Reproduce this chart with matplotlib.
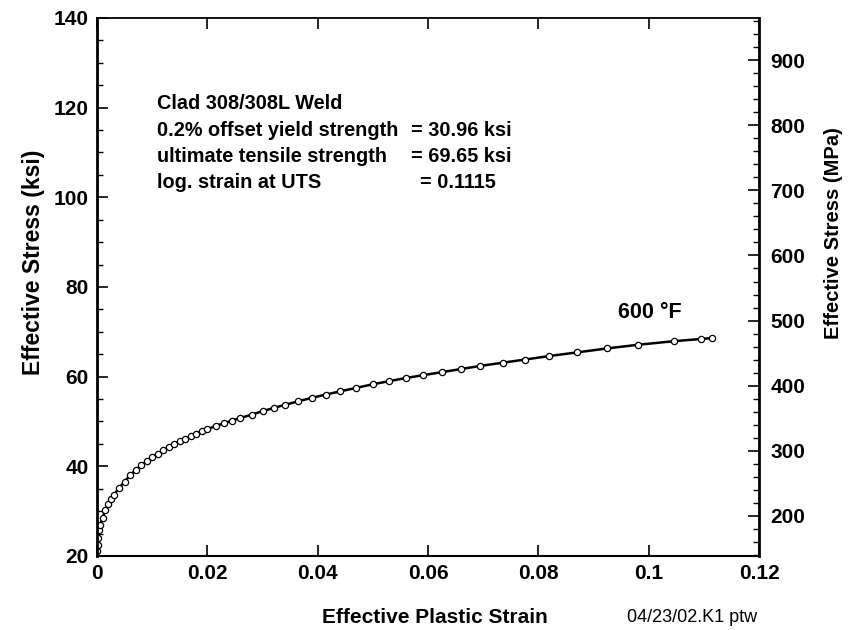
import numpy as np
import matplotlib.pyplot as plt
from matplotlib.ticker import MultipleLocator

plt.rcParams['font.family'] = ['Liberation Sans', 'DejaVu Sans']

# strain / stress
strain = [0, 0.0001, 0.0002, 0.0004, 0.0006, 0.001, 0.0015, 0.002, 0.0025, 0.003,
          0.004, 0.005, 0.006, 0.007, 0.008, 0.009, 0.010, 0.011, 0.012, 0.013,
          0.014, 0.015, 0.016, 0.017, 0.018, 0.019, 0.020, 0.0215, 0.023, 0.0245,
          0.026, 0.028, 0.030, 0.032, 0.034, 0.0365, 0.039, 0.0415, 0.044, 0.047,
          0.050, 0.053, 0.056, 0.059, 0.0625, 0.066, 0.0695, 0.0735, 0.0775,
          0.082, 0.087, 0.0925, 0.098, 0.1045, 0.1095, 0.1115]
stress = [21.0, 22.5, 24.0, 25.7, 27.0, 28.5, 30.3, 31.5, 32.6, 33.5,
          35.2, 36.6, 38.0, 39.2, 40.2, 41.1, 42.0, 42.8, 43.6, 44.3,
          45.0, 45.6, 46.2, 46.8, 47.3, 47.8, 48.3, 49.0, 49.6, 50.2,
          50.8, 51.5, 52.3, 53.0, 53.7, 54.5, 55.3, 56.0, 56.7, 57.5,
          58.3, 59.0, 59.7, 60.3, 61.0, 61.7, 62.4, 63.1, 63.8,
          64.6, 65.4, 66.3, 67.1, 67.9, 68.4, 68.6]

x_ticks = [0, 0.02, 0.04, 0.06, 0.08, 0.1, 0.12]
x_labels = ['0', '0.02', '0.04', '0.06', '0.08', '0.1', '0.12']
info_labels = ['Clad 308/308L Weld', '0.2% offset yield strength',
               'ultimate tensile strength', 'log. strain at UTS']
info_values = ['', '= 30.96 ksi', '= 69.65 ksi', '= 0.1115']
ksi_to_mpa = 6.895

fig = plt.figure(figsize=(8.61, 6.30), dpi=100)
ax = fig.add_axes([0.1127, 0.1175, 0.7689, 0.854])

ax.plot(strain, stress, color='black', lw=1.8, marker='o', ms=4.5,
        mfc='white', mec='black', mew=0.9)

ax.set_xlim(0, 0.12)
ax.set_ylim(20, 140)
ax.set_xticks(x_ticks)
ax.set_xticklabels(x_labels)
ax.yaxis.set_major_locator(MultipleLocator(20))
ax.yaxis.set_minor_locator(MultipleLocator(5))
ax.tick_params(axis='both', which='major', direction='in', length=8, width=1.2,
               labelsize=15, top=True, pad=6)
ax.tick_params(axis='y', which='minor', direction='in', length=4, width=1)
for lab in ax.get_xticklabels() + ax.get_yticklabels():
    lab.set_fontweight('bold')

ax.spines['left'].set_linewidth(2)
ax.spines['right'].set_linewidth(2)
ax.spines['bottom'].set_linewidth(1.5)
ax.spines['top'].set_linewidth(1.3)
ax.spines['top'].set_linestyle((0, (2, 1)))

ax.set_xlabel('Effective Plastic Strain', fontsize=15, fontweight='bold')
ax.xaxis.set_label_coords(0.511, -0.115)
ax.xaxis.label.set_va('center')
ax.set_ylabel('Effective Stress (ksi)', fontsize=16.5, fontweight='bold')
ax.yaxis.set_label_coords(-0.0967, 0.546)
ax.yaxis.label.set_va('center')

ax2 = ax.twinx()
ax2.set_ylim(20 * ksi_to_mpa, 140 * ksi_to_mpa)
ax2.yaxis.set_major_locator(MultipleLocator(100))
ax2.yaxis.set_minor_locator(MultipleLocator(20))
ax2.tick_params(axis='y', which='major', direction='in', length=8, width=1.2,
                labelsize=15, pad=8)
ax2.tick_params(axis='y', which='minor', direction='in', length=4, width=1)
for lab in ax2.get_yticklabels():
    lab.set_fontweight('bold')
ax2.set_ylabel('Effective Stress (MPa)', fontsize=14.5, fontweight='bold')
ax2.yaxis.set_label_coords(1.113, 0.600)
ax2.yaxis.label.set_va('center')
for s in ax2.spines.values():
    s.set_visible(False)

# annotation block
y_rows = [121.0, 115.0, 109.0, 103.2]
eq_x = [0, 0.0569, 0.0569, 0.0585]
for lbl, val, yy, xx in zip(info_labels, info_values, y_rows, eq_x):
    ax.text(0.0109, yy, lbl, fontsize=14.3, fontweight='bold', va='center')
    if val:
        ax.text(xx, yy, val, fontsize=14.3, fontweight='bold', va='center')

ax.text(0.0944, 74.2, '600 °F', fontsize=15.5, fontweight='bold', va='center')
fig.text(627 / 861, 1 - 617 / 630, '04/23/02.K1 ptw', fontsize=13, va='center')

fig.savefig('out.png', dpi=100)
